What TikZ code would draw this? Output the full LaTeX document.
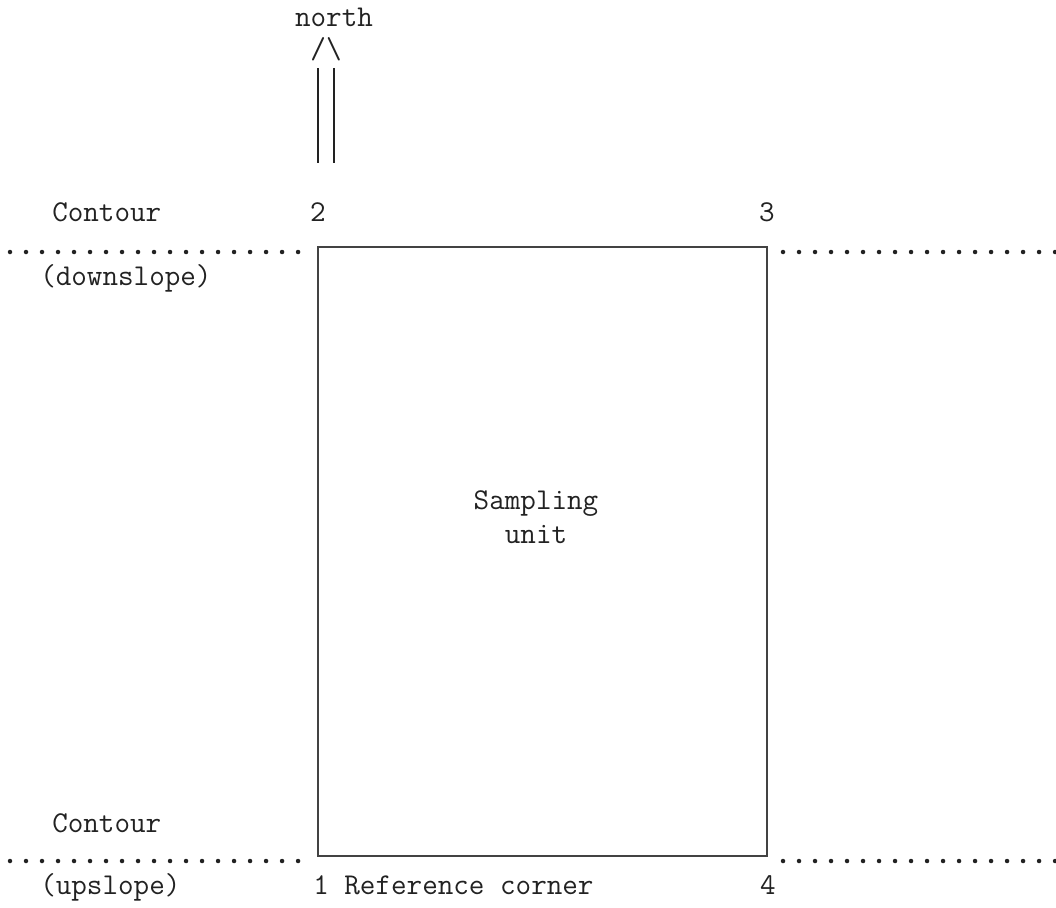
\documentclass[tikz,border=0pt]{standalone}
\usepackage{fontspec}
\usepackage{tikz}
\usetikzlibrary{positioning}
\definecolor{ink}{HTML}{222222}

\begin{document}
\begin{tikzpicture}[x=0.025cm,y=-0.025cm,
    lbl/.style={font=\ttfamily\fontsize{21.5}{24}\selectfont,text=ink,inner sep=0pt},
    contourline/.style={ink,line width=3.2pt,line cap=round,dash pattern=on 0pt off 0.4cm},
    plotline/.style={draw=ink!85,line width=1.1pt}
  ]
    \useasboundingbox (0,0) rectangle (1056,907);

    % corners of the plot, 1 is the reference corner
    \coordinate (c1) at (318,856);
    \coordinate (c2) at (318,247);
    \coordinate (c3) at (767,247);
    \coordinate (c4) at (767,856);
    \draw[plotline] (c1) -- (c2) -- (c3) -- (c4) -- cycle;
    \node[lbl,align=center] (unit) at (536,517) {Sampling\\unit};

    % north arrow
    \node[lbl,anchor=base] (north) at (334,27) {north};
    \node[lbl,anchor=base] (tip) at (326,59) {/\textbackslash};
    \coordinate (shafttop) at (326,68);
    \coordinate (shaftend) at (326,163);
    \draw[ink,line width=1.1pt,double,double distance=0.3625cm] (shafttop) -- (shaftend);

    % corner numbers
    \node[lbl,anchor=base] (n2) at (318,221) {2};
    \node[lbl,anchor=base] (n3) at (767,221) {3};
    \node[lbl,anchor=base west] (n1) at (313,894) {1 Reference corner};
    \node[lbl,anchor=base] (n4) at (768,894) {4};

    % contours
    \node[lbl,anchor=base west] (ctop) at (52,221) {Contour};
    \node[lbl,anchor=base west] (down) at (40,285) {(downslope)};
    \node[lbl,anchor=base west] (cbot) at (52,832) {Contour};
    \node[lbl,anchor=base west] (up) at (40,894) {(upslope)};
    \coordinate (tl) at (10,252);
    \coordinate (tr) at (783,252);
    \coordinate (bl) at (10,861);
    \coordinate (br) at (783,861);
    \draw[contourline] (tl) -- (306,252);
    \draw[contourline] (tr) -- (1060,252);
    \draw[contourline] (bl) -- (306,861);
    \draw[contourline] (br) -- (1060,861);
\end{tikzpicture}
\end{document}
